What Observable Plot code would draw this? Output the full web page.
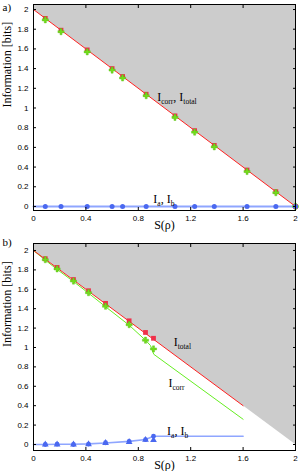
<!DOCTYPE html>
<html><head><meta charset="utf-8">
<script src="https://cdn.jsdelivr.net/npm/d3@7"></script>
<script src="https://cdn.jsdelivr.net/npm/@observablehq/plot@0.6"></script>
<style>
body{margin:0;background:#fff;}
#chart svg{display:block;}
</style></head><body><div id="chart"></div>
<script>
// ---- shared ticks / bound ----
const xTicks = [0, 0.4, 0.8, 1.2, 1.6, 2];
const yTicks = [0, 0.2, 0.4, 0.6, 0.8, 1, 1.2, 1.4, 1.6, 1.8, 2];
const boundS = [0, 2];      // I = 2 - S limit
const boundI = [2, 0];

// ---- panel a ----
const sA = [0.09, 0.21, 0.41, 0.6, 0.68, 0.86, 1.08, 1.23, 1.38, 1.63, 1.85, 2.0];
const totalA = [1.91, 1.79, 1.59, 1.40, 1.32, 1.14, 0.92, 0.77, 0.62, 0.37, 0.15, 0.0];
const corrA = [1.895, 1.775, 1.57, 1.385, 1.305, 1.125, 0.905, 0.755, 0.605, 0.355, 0.14, 0.0];
const iaA = [0, 0, 0, 0, 0, 0, 0, 0, 0, 0, 0, 0];
const abLineA_S = [0, 2];
const abLineA_I = [0, 0];

// ---- panel b ----
const sB = [0.09, 0.18, 0.305, 0.42, 0.55, 0.73, 0.855, 0.916];
const totalB = [1.915, 1.825, 1.70, 1.585, 1.455, 1.275, 1.155, 1.095];
const corrB = [1.905, 1.81, 1.685, 1.565, 1.425, 1.235, 1.075, 0.985];
const iaB = [0.0, 0.003, 0.0, 0.004, 0.018, 0.033, 0.05, 0.085];
const ibB = [0.0, 0.0, 0.0, 0.003, 0.016, 0.026, 0.048, 0.045];
const totalLineS = [0, 1.6];
const totalLineI = [2, 0.4];
const corrLineS = [0, 0.09, 0.18, 0.305, 0.42, 0.55, 0.73, 0.855, 0.893, 0.918, 1.6];
const corrLineI = [2, 1.9, 1.805, 1.68, 1.56, 1.42, 1.23, 1.075, 1.02, 0.93, 0.26];
const abLineS = [0, 0.09, 0.18, 0.305, 0.42, 0.55, 0.73, 0.855, 0.916, 1.6];
const abLineI = [0, 0, 0.002, 0.003, 0.006, 0.016, 0.032, 0.052, 0.085, 0.085];

const zip = (xs, ys) => xs.map((s, i) => ({s, v: ys[i]}));

const RED = "#ff2020", REDM = "#f0304a", GREEN = "#66ee22", GREENM = "#72dd1c",
      BLUEM = "#4a68f0", BLUEL = "#8fa6ff", GRAY = "#cccccc";
const SERIF = "Liberation Serif, Times New Roman, serif";

function axes() {
  const fmt = d => String(+d.toFixed(1));
  return [
    Plot.axisX(xTicks, {anchor: "bottom", tickSize: -3, text: null, label: null}),
    Plot.axisX(xTicks, {anchor: "top", tickSize: -3, text: null, label: null}),
    Plot.axisY(yTicks, {anchor: "left", tickSize: -3, text: null, label: null}),
    Plot.axisY(yTicks, {anchor: "right", tickSize: -3, text: null, label: null}),
    Plot.axisX(xTicks, {anchor: "bottom", tickSize: 0, tickPadding: 5, tickFormat: fmt, label: null}),
    Plot.axisY(yTicks, {anchor: "left", tickSize: 0, tickPadding: 5, tickFormat: fmt, label: null})
  ];
}

function commonText(panelLabel, labelDy) {
  return [
    Plot.text(["S(ρ)"], {frameAnchor: "bottom", dy: 15, lineAnchor: "middle", fontFamily: SERIF, fontSize: 12}),
    Plot.text(["Information [bits]"], {frameAnchor: "left", dx: -26.5, rotate: -90, lineAnchor: "middle", fontFamily: SERIF, fontSize: 12}),
    Plot.text([panelLabel], {frameAnchor: "top-left", dx: -31, dy: labelDy, textAnchor: "start", lineAnchor: "top", fontFamily: SERIF, fontSize: 11})
  ];
}

function ann(label, x, y) {
  return Plot.text([label], {x, y, text: d => d, textAnchor: "start", lineAnchor: "middle",
    fontFamily: SERIF, fontSize: 12, className: "ann"});
}

function subscripts(svg) {
  d3.select(svg).selectAll(".ann text").each(function() {
    const s = this.textContent;
    const parts = s.split(/_([a-z]+)/);
    const t = d3.select(this);
    t.text(null);
    let shifted = false;
    parts.forEach((p, i) => {
      if (!p) return;
      const sp = t.append("tspan").text(p);
      if (i % 2 === 1) {
        sp.attr("font-size", 7.5).attr("dy", shifted ? null : 3);
        shifted = true;
      } else if (shifted) {
        sp.attr("dy", -3);
        shifted = false;
      }
    });
  });
  return svg;
}

const base = {
  width: 299,
  marginLeft: 33, marginRight: 4,
  x: {domain: [0, 2], axis: null},
  style: {fontFamily: "Liberation Sans, Arial, sans-serif", fontSize: "8px", background: "white", overflow: "visible"}
};

// panel a
const plotA = Plot.plot({
  ...base,
  height: 234, marginTop: 4, marginBottom: 24,
  y: {domain: [-0.041, 2.051], axis: null},
  marks: [
    Plot.areaY(zip(boundS, boundI), {x: "s", y1: "v", y2: 2.051, fill: GRAY}),
    Plot.line(zip(abLineA_S, abLineA_I), {x: "s", y: "v", stroke: BLUEL, strokeWidth: 2}),
    Plot.line(zip(boundS, boundI), {x: "s", y: "v", stroke: RED, strokeWidth: 1}),
    Plot.dot(zip(sA, totalA), {x: "s", y: "v", symbol: "square", r: 2.7, fill: REDM}),
    Plot.dot(zip(sA, corrA), {x: "s", y: "v", symbol: "cross", r: 2.6, fill: GREENM, stroke: "#55bb11", strokeWidth: 0.4}),
    Plot.dot(zip(sA, iaA), {x: "s", y: "v", symbol: "circle", r: 2.5, fill: BLUEM}),
    Plot.frame({stroke: "black", strokeWidth: 1}),
    ...axes(),
    ...commonText("a)", -1),
    ann("I_corr, I_total", 0.945, 1.11),
    ann("I_a, I_b", 0.915, 0.07)
  ]
});

// panel b
const plotB = Plot.plot({
  ...base,
  height: 237, marginTop: 9, marginBottom: 21,
  y: {domain: [-0.062, 2.072], axis: null},
  marks: [
    Plot.areaY(zip(boundS, boundI), {x: "s", y1: "v", y2: 2.072, fill: GRAY}),
    Plot.line(zip(abLineS, abLineI), {x: "s", y: "v", stroke: BLUEL, strokeWidth: 1.6}),
    Plot.line(zip(corrLineS, corrLineI), {x: "s", y: "v", stroke: GREEN, strokeWidth: 1}),
    Plot.line(zip(totalLineS, totalLineI), {x: "s", y: "v", stroke: RED, strokeWidth: 1}),
    Plot.dot(zip(sB, totalB), {x: "s", y: "v", symbol: "square", r: 2.7, fill: REDM}),
    Plot.dot(zip(sB, corrB), {x: "s", y: "v", symbol: "cross", r: 2.6, fill: GREENM, stroke: "#55bb11", strokeWidth: 0.4}),
    Plot.dot(zip(sB, ibB), {x: "s", y: "v", symbol: "triangle", r: 2.5, fill: BLUEM}),
    Plot.dot(zip(sB, iaB), {x: "s", y: "v", symbol: "circle", r: 2.4, fill: BLUEM}),
    Plot.frame({stroke: "black", strokeWidth: 1}),
    ...axes(),
    ...commonText("b)", -5.5),
    ann("I_total", 1.07, 1.06),
    ann("I_corr", 1.03, 0.63),
    ann("I_a, I_b", 1.02, 0.14)
  ]
});

const chart = document.getElementById("chart");
chart.appendChild(subscripts(plotA));
chart.appendChild(subscripts(plotB));
</script>
</body></html>
